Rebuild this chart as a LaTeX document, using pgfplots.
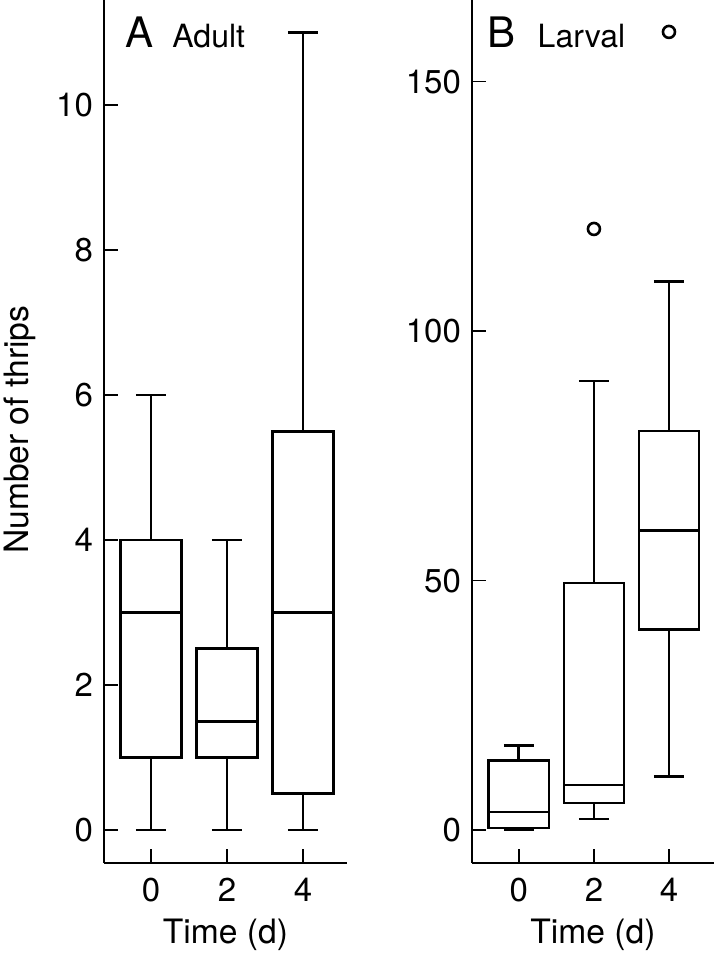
\documentclass[border=0pt]{standalone}
\usepackage{fontspec}
\setmainfont{TeX Gyre Heros}
\usepackage{pgfplots}
\pgfplotsset{compat=1.18}
\usepgfplotslibrary{statistics}

\pgfplotsset{
  thrips/.style={
    scale only axis,
    width=121.5pt, height=431.5pt,
    anchor=south west,
    axis x line*=bottom, axis y line*=left,
    axis line style={-, line width=0.7pt},
    xtick align=inside, ytick align=inside,
    major tick length=7pt,
    tick style={line width=0.7pt, black},
    xtick={0,2,4},
    /pgf/number format/assume math mode=true,
    ticklabel style={font=\fontsize{16.5}{19}\selectfont},
    yticklabel style={xshift=-2pt},
    xticklabel style={yshift=-4pt},
    label style={font=\fontsize{16.8}{20}\selectfont},
    xlabel={Time (d)},
    xlabel style={at={(rel axis cs:0.5,-0.0834)}, anchor=center},
    clip=false,
    boxplot/draw direction=y,
  },
  bx/.style={black, line width=1.4pt, mark=o, mark size=3pt,
    mark options={line width=1.3pt}},
}

\begin{document}
\begin{tikzpicture}
\useasboundingbox (0,0) rectangle (357pt,477.5pt);

\begin{axis}[thrips,
  at={(52pt,46pt)},
  xmin=-1.24, xmax=5.16,
  ymin=-0.455, ymax=11.45,
  ytick={0,2,4,6,8,10},
  ylabel={Number of thrips},
  ylabel style={at={(rel axis cs:-0.346,0.502)}, anchor=center},
  xtick align=inside, ytick align=inside,
]
\addplot[bx, boxplot prepared={draw position=0, lower whisker=0, lower quartile=1,
  median=3, upper quartile=4, upper whisker=6, box extend=1.6, whisker extend=0.8}]
  coordinates {};
\addplot[bx, boxplot prepared={draw position=2, lower whisker=0, lower quartile=1,
  median=1.5, upper quartile=2.5, upper whisker=4, box extend=1.6, whisker extend=0.8}]
  coordinates {};
\addplot[bx, boxplot prepared={draw position=4, lower whisker=0, lower quartile=0.5,
  median=3, upper quartile=5.5, upper whisker=11, box extend=1.6, whisker extend=0.8}]
  coordinates {};
\node[anchor=base west, font=\fontsize{21}{24}\selectfont, inner sep=0pt]
  at (rel axis cs:0.086,0.9455) {A};
\node[anchor=base west, font=\fontsize{16}{19}\selectfont, inner sep=0pt]
  at (rel axis cs:0.28,0.9455) {Adult};
\end{axis}

\begin{axis}[thrips,
  at={(236pt,46pt)},
  width=121pt,
  xmin=-1.25, xmax=5.2,
  ymin=-6.62, ymax=166.4,
  ytick={0,50,100,150},
  xtick align=inside, ytick align=inside,
]
\addplot[bx, boxplot prepared={draw position=0, lower whisker=0, lower quartile=0.4,
  median=3.6, upper quartile=14, upper whisker=17, box extend=1.6, whisker extend=0.8}]
  coordinates {};
\addplot[bx, boxplot prepared={draw position=2, lower whisker=2.2, lower quartile=5.4,
  median=9, upper quartile=49.5, upper whisker=90, box extend=1.6, whisker extend=0.8}]
  coordinates {(2,120.5)};
\addplot[bx, boxplot prepared={draw position=4, lower whisker=10.8, lower quartile=40.2,
  median=60, upper quartile=80, upper whisker=110, box extend=1.6, whisker extend=0.8}]
  coordinates {(4,160)};
\node[anchor=base west, font=\fontsize{21}{24}\selectfont, inner sep=0pt]
  at (rel axis cs:0.062,0.9455) {B};
\node[anchor=base west, font=\fontsize{16}{19}\selectfont, inner sep=0pt]
  at (rel axis cs:0.27,0.9455) {Larval};
\end{axis}
\end{tikzpicture}
\end{document}
